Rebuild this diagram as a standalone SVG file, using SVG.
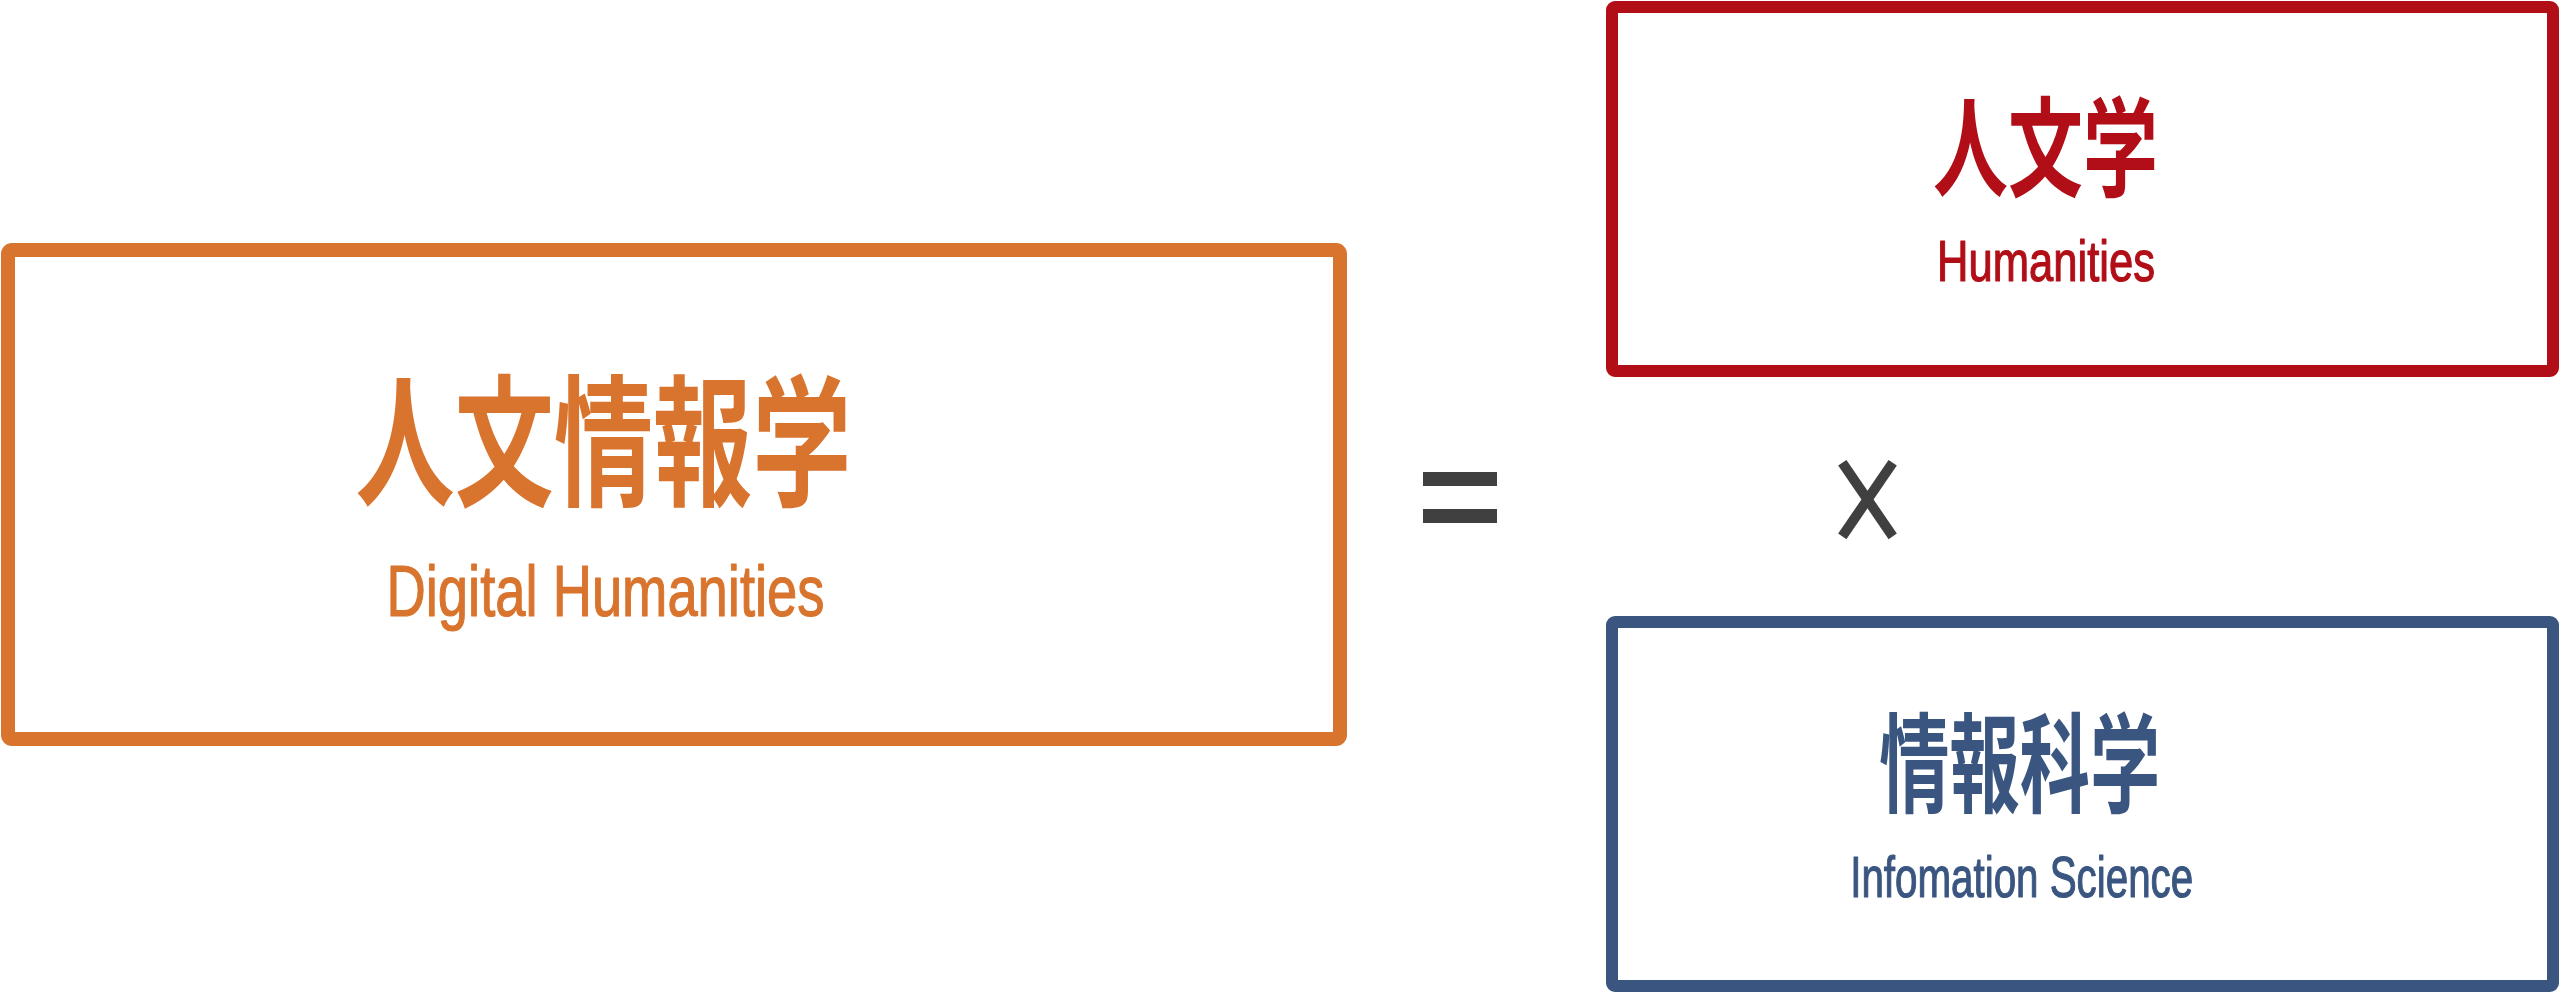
<svg xmlns="http://www.w3.org/2000/svg" width="2560" height="995" viewBox="0 0 2560 995">
<style>
.box{fill:none;stroke-linejoin:round}
.cjk{font-family:"Noto Sans CJK JP","Noto Sans CJK SC",sans-serif;font-weight:700;text-anchor:middle}
.lat{font-family:"Liberation Sans",Arial,sans-serif;font-weight:400;text-anchor:middle;stroke-width:1.2;stroke-linejoin:round}
.op{fill:#404040}
</style>
<rect width="2560" height="995" fill="#ffffff"/>
<g id="node-digital-humanities">
<rect class="box" x="8" y="250" width="1332" height="489" rx="4" stroke="#D8742D" stroke-width="14"/>
<text class="cjk" x="603.5" y="495" font-size="142" fill="#D8742D" textLength="496" lengthAdjust="spacingAndGlyphs">人文情報学</text>
<text class="lat" x="605.5" y="616" font-size="72.6" fill="#D8742D" stroke="#D8742D" textLength="438" lengthAdjust="spacingAndGlyphs">Digital Humanities</text>
</g>
<g id="node-humanities">
<rect class="box" x="1612" y="7" width="941" height="364" rx="3" stroke="#B10E17" stroke-width="12"/>
<text class="cjk" x="2045.5" y="188" font-size="108" fill="#B10E17" textLength="225" lengthAdjust="spacingAndGlyphs">人文学</text>
<text class="lat" x="2046" y="281" font-size="56.7" fill="#B10E17" stroke="#B10E17" textLength="218" lengthAdjust="spacingAndGlyphs">Humanities</text>
</g>
<g id="node-information-science">
<rect class="box" x="1612" y="622" width="941" height="364" rx="3" stroke="#3A5680" stroke-width="12"/>
<text class="cjk" x="2019.7" y="803.5" font-size="108" fill="#3A5680" textLength="281" lengthAdjust="spacingAndGlyphs">情報科学</text>
<text class="lat" x="2021.7" y="897" font-size="58" fill="#3A5680" stroke="#3A5680" textLength="343" lengthAdjust="spacingAndGlyphs">Infomation Science</text>
</g>
<g id="connectors">
<g id="equals">
<rect class="op" x="1423" y="472" width="74" height="14"/>
<rect class="op" x="1423" y="509" width="74" height="14"/>
</g>
<g id="times" stroke="#404040" stroke-width="10" stroke-linecap="butt">
<line x1="1842.3" y1="462.7" x2="1892.7" y2="536.3"/>
<line x1="1892.7" y1="462.7" x2="1842.3" y2="536.3"/>
</g>
</g>
</svg>
